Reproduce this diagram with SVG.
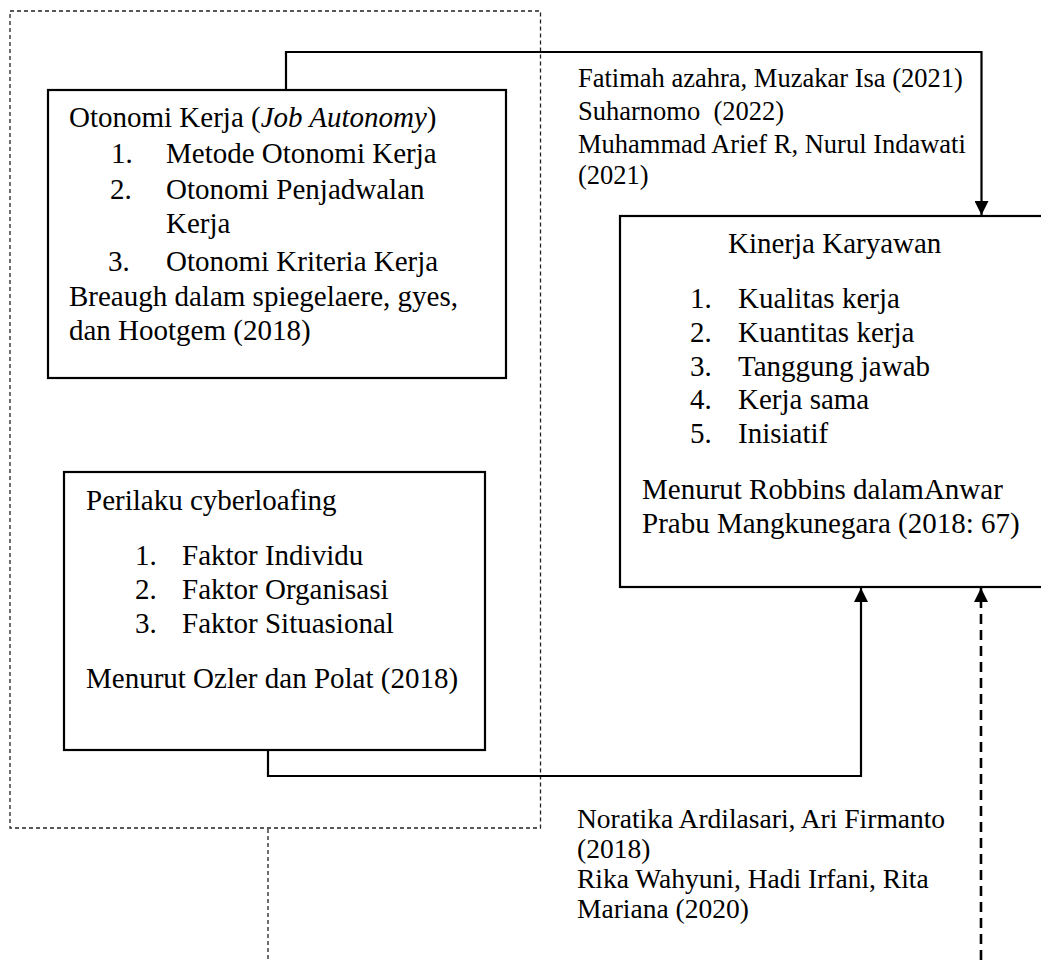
<svg xmlns="http://www.w3.org/2000/svg" width="1041" height="960" viewBox="0 0 1041 960">
<style>
text{font-family:"Liberation Serif","Times New Roman",serif;fill:#000;white-space:pre}
.t{font-size:29px}
.l{font-size:26.5px}
.lb{font-size:27.5px}
.box{fill:#fff;stroke:#000;stroke-width:2.2}
.frame{fill:none;stroke:#222;stroke-width:1.3;stroke-dasharray:4 3}
.conn{fill:none;stroke:#000;stroke-width:2.2}
.dash{fill:none;stroke:#000;stroke-width:2.6;stroke-dasharray:10 6}
</style>
<defs>
<marker id="ah" markerUnits="userSpaceOnUse" markerWidth="14" markerHeight="14" refX="14" refY="7" orient="auto">
<path d="M0,0 L14,7 L0,14 z" fill="#000"/>
</marker>
</defs>
<rect width="1041" height="960" fill="#fff"/>
<g id="frame">
<rect class="frame" x="10" y="11" width="530.5" height="817"/>
</g>
<g id="connectors">
<path class="conn" d="M286,90 V52 H981.5 V215" marker-end="url(#ah)"/>
<path class="conn" d="M268,750 V776 H861 V588" marker-end="url(#ah)"/>
<path class="dash" d="M981,960 V588" marker-end="url(#ah)"/>
<path class="frame" d="M268,829 V960"/>
</g>
<g id="node-otonomi">
<rect class="box" x="48" y="90" width="458" height="288"/>
<text class="t" x="69" y="127">Otonomi Kerja (<tspan font-style="italic">Job Autonomy</tspan>)</text>
<text class="t" x="111" y="163">1.</text><text class="t" x="166" y="163">Metode Otonomi Kerja</text>
<text class="t" x="110" y="199">2.</text><text class="t" x="166" y="199">Otonomi Penjadwalan</text>
<text class="t" x="166" y="233">Kerja</text>
<text class="t" x="108" y="271">3.</text><text class="t" x="166" y="271">Otonomi Kriteria Kerja</text>
<text class="t" x="69" y="306">Breaugh dalam spiegelaere, gyes,</text>
<text class="t" x="69" y="340">dan Hootgem (2018)</text>
</g>
<g id="node-cyberloafing">
<rect class="box" x="64" y="472" width="421" height="278"/>
<text class="t" x="86" y="510">Perilaku cyberloafing</text>
<text class="t" x="135" y="565">1.</text><text class="t" x="182" y="565">Faktor Individu</text>
<text class="t" x="135" y="599">2.</text><text class="t" x="182" y="599">Faktor Organisasi</text>
<text class="t" x="135" y="633">3.</text><text class="t" x="182" y="633">Faktor Situasional</text>
<text class="t" x="86" y="688">Menurut Ozler dan Polat (2018)</text>
</g>
<g id="node-kinerja">
<rect class="box" x="620" y="216" width="430" height="371"/>
<text class="t" x="728" y="253">Kinerja Karyawan</text>
<text class="t" x="690" y="308">1.</text><text class="t" x="738" y="308">Kualitas kerja</text>
<text class="t" x="690" y="342">2.</text><text class="t" x="738" y="342">Kuantitas kerja</text>
<text class="t" x="690" y="376">3.</text><text class="t" x="738" y="376">Tanggung jawab</text>
<text class="t" x="690" y="409">4.</text><text class="t" x="738" y="409">Kerja sama</text>
<text class="t" x="690" y="443">5.</text><text class="t" x="738" y="443">Inisiatif</text>
<text class="t" x="642" y="499">Menurut Robbins dalamAnwar</text>
<text class="t" x="642" y="533">Prabu Mangkunegara (2018: 67)</text>
</g>
<g id="label-top">
<text class="l" x="578" y="87">Fatimah azahra, Muzakar Isa (2021)</text>
<text class="l" x="578" y="120">Suharnomo  (2022)</text>
<text class="l" x="578" y="153">Muhammad Arief R, Nurul Indawati</text>
<text class="l" x="578" y="184">(2021)</text>
</g>
<g id="label-bottom">
<text class="lb" x="577" y="828">Noratika Ardilasari, Ari Firmanto</text>
<text class="lb" x="577" y="858">(2018)</text>
<text class="lb" x="577" y="888">Rika Wahyuni, Hadi Irfani, Rita</text>
<text class="lb" x="577" y="918">Mariana (2020)</text>
</g>
</svg>
